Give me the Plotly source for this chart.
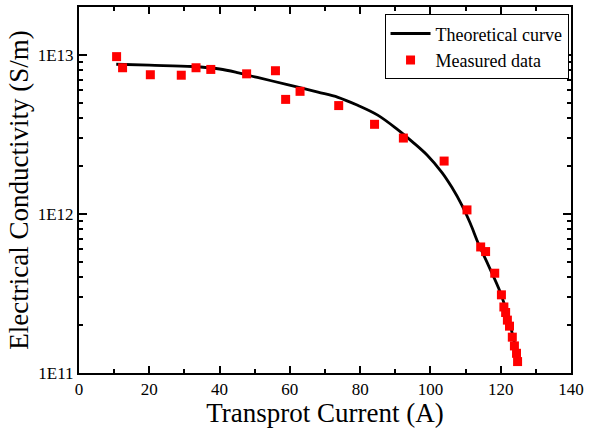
import plotly.graph_objects as go

# Measured data
meas_x = [10.7, 12.4, 20.3, 29.1, 33.3, 37.5, 47.7, 55.9, 58.8, 62.9, 73.9, 84.1, 92.3, 103.9,
          110.4, 114.3, 115.7, 118.3, 120.2, 120.9, 121.4, 121.9, 122.5, 123.3, 123.9, 124.5, 124.8]
meas_y = [9.75e12, 8.3e12, 7.5e12, 7.45e12, 8.3e12, 8.1e12, 7.6e12, 7.95e12, 5.25e12, 5.9e12,
          4.8e12, 3.66e12, 3.0e12, 2.15e12, 1.06e12, 6.2e11, 5.8e11, 4.24e11, 3.1e11, 2.6e11,
          2.4e11, 2.15e11, 1.97e11, 1.68e11, 1.48e11, 1.33e11, 1.18e11]

# Theoretical curve
curve_x = [10.6, 20, 32.3, 40, 45.4, 50, 55, 61.4, 68.0, 73.7, 79.3, 85.0, 90.6, 94.8, 99.1,
           103.3, 106.1, 108.9, 111.3, 113.7, 116.5, 119.8, 122, 124.5, 124.9]
curve_y = [8.73e12, 8.61e12, 8.45e12, 8.15e12, 7.71e12, 7.28e12, 6.85e12, 6.34e12, 5.83e12,
           5.41e12, 4.82e12, 4.18e12, 3.40e12, 2.85e12, 2.34e12, 1.82e12, 1.47e12, 1.14e12,
           8.77e11, 6.47e11, 4.75e11, 3.25e11, 2.28e11, 1.34e11, 1.17e11]

y_tickvals = [1e11, 1e12, 1e13]
y_ticktext = ["1E11", "1E12", "1E13"]
x_tickvals = [0, 20, 40, 60, 80, 100, 120, 140]

FONT = "Liberation Serif, Times New Roman, serif"

fig = go.Figure()
fig.add_trace(go.Scatter(x=curve_x, y=curve_y, mode="lines", name="Theoretical curve",
                         line=dict(color="black", width=2.8, shape="spline", smoothing=1.0)))
fig.add_trace(go.Scatter(x=meas_x, y=meas_y, mode="markers", name="Measured data",
                         marker=dict(symbol="square", size=9, color="#ff0000", line=dict(width=0))))

axis_common = dict(showline=True, linecolor="black", linewidth=2, mirror="ticks",
                   ticks="inside", tickcolor="black", tickwidth=1.5, showgrid=False,
                   zeroline=False, tickfont=dict(family=FONT, size=17, color="black"))

fig.update_xaxes(range=[0, 140], tickvals=x_tickvals, ticklen=7,
                 minor=dict(ticks="inside", dtick=10, ticklen=4, tickcolor="black", tickwidth=1.5),
                 title=dict(text="Transprot Current (A)", font=dict(family=FONT, size=27, color="black"),
                            standoff=0),
                 **axis_common)
fig.update_yaxes(type="log", range=[11, 13.301], tickvals=y_tickvals, ticktext=y_ticktext, ticklen=8,
                 minor=dict(ticks="inside", dtick="D1", ticklen=4, tickcolor="black", tickwidth=1.5),
                 title=dict(text="Electrical Conductivity (S/m)", font=dict(family=FONT, size=27, color="black"),
                            standoff=1),
                 **axis_common)

fig.update_layout(
    width=589, height=428,
    margin=dict(l=79, r=14, t=5, b=55),
    paper_bgcolor="white", plot_bgcolor="white",
    font=dict(family=FONT, color="black"),
    legend=dict(x=0.995, y=0.98, xanchor="right", yanchor="top",
                bgcolor="white", bordercolor="black", borderwidth=1,
                font=dict(family=FONT, size=18, color="black"),
                tracegroupgap=0, itemwidth=40),
)

fig.write_html("out.html")
